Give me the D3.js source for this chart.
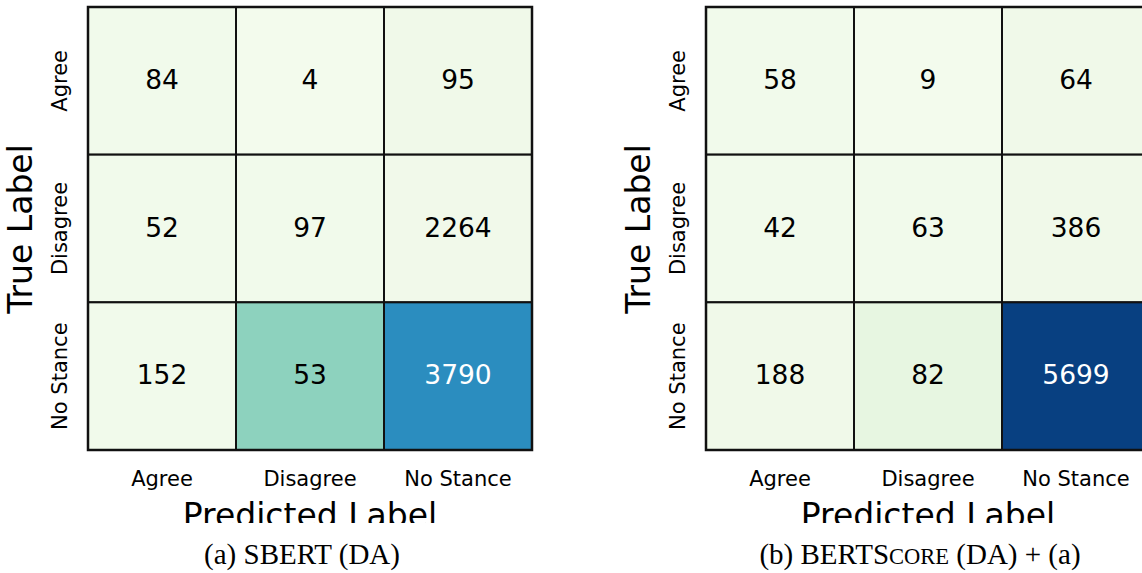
<!DOCTYPE html>
<html><head><meta charset="utf-8">
<script src="https://cdn.jsdelivr.net/npm/d3@7"></script>
<style>html,body{margin:0;padding:0;background:#fff;}</style>
</head><body>
<svg id="c" width="1142" height="573"></svg>
<script>
const labels = ["Agree", "Disagree", "No Stance"];
const countsA = [[84, 4, 95], [52, 97, 2264], [152, 53, 3790]];
const countsB = [[58, 9, 64], [42, 63, 386], [188, 82, 5699]];
// colour intensity (0-1 on GnBu)
const shadeA = [[0.03, 0.02, 0.04], [0.03, 0.03, 0.035], [0.03, 0.45, 0.75]];
const shadeB = [[0.03, 0.02, 0.04], [0.03, 0.03, 0.04], [0.04, 0.09, 1.0]];
const xTitle = "Predicted Label", yTitle = "True Label";

const svg = d3.select("#c");
const sans = "'DejaVu Sans', sans-serif";
const color = d3.scaleSequential(d3.interpolateGnBu).domain([0, 1]);

svg.append("defs").append("clipPath").attr("id", "clipT")
  .append("rect").attr("x", 0).attr("y", 0).attr("width", 1142).attr("height", 523);

function panel(x0, counts, shade) {
  const x = d3.scaleBand().domain(labels).range([x0, x0 + 444]);
  const y = d3.scaleBand().domain(labels).range([7, 450]);
  const g = svg.append("g");
  const cells = [];
  counts.forEach((row, i) => row.forEach((v, j) => cells.push({r: labels[i], c: labels[j], v, s: shade[i][j]})));
  g.selectAll("rect.cell").data(cells).join("rect")
    .attr("x", d => x(d.c)).attr("y", d => y(d.r))
    .attr("width", x.bandwidth()).attr("height", y.bandwidth())
    .attr("fill", d => color(d.s)).attr("stroke", "#111").attr("stroke-width", 2);
  g.append("rect").attr("x", x0).attr("y", 7).attr("width", 444).attr("height", 443)
    .attr("fill", "none").attr("stroke", "#111").attr("stroke-width", 2.5);
  g.selectAll("text.val").data(cells).join("text")
    .attr("x", d => x(d.c) + x.bandwidth() / 2).attr("y", d => y(d.r) + y.bandwidth() / 2 + 8)
    .attr("text-anchor", "middle")
    .attr("font-family", sans).attr("font-size", 26.5)
    .attr("fill", d => d.s > 0.6 ? "#fff" : "#000").text(d => d.v);
  g.selectAll("text.xt").data(labels).join("text")
    .attr("x", d => x(d) + x.bandwidth() / 2).attr("y", 486)
    .attr("text-anchor", "middle")
    .attr("font-family", sans).attr("font-size", 21).text(d => d);
  g.selectAll("text.yt").data(labels).join("text")
    .attr("transform", d => `translate(${x0 - 21},${y(d) + y.bandwidth() / 2}) rotate(-90)`)
    .attr("text-anchor", "middle")
    .attr("font-family", sans).attr("font-size", 21).text(d => d);
  g.append("text")
    .attr("transform", `translate(${x0 - 56},229) rotate(-90)`)
    .attr("text-anchor", "middle")
    .attr("font-family", sans).attr("font-size", 33).text(yTitle);
  g.append("text").attr("clip-path", "url(#clipT)")
    .attr("x", x0 + 222).attr("y", 527).attr("text-anchor", "middle")
    .attr("font-family", sans).attr("font-size", 33).text(xTitle);
  return x0 + 222;
}

const ca = panel(88, countsA, shadeA);
const cb = panel(706, countsB, shadeB);

const serif = "'Liberation Serif', 'Times New Roman', serif";
svg.append("text").attr("x", ca - 8).attr("y", 564).attr("text-anchor", "middle")
  .attr("font-family", serif).attr("font-size", 29).text("(a) SBERT (DA)");
const t = svg.append("text").attr("x", cb - 8).attr("y", 564).attr("text-anchor", "middle")
  .attr("font-family", serif).attr("font-size", 29);
t.append("tspan").text("(b) BERTS");
t.append("tspan").attr("font-size", 22.5).text("CORE");
t.append("tspan").text(" (DA) + (a)");
</script>
</body></html>
